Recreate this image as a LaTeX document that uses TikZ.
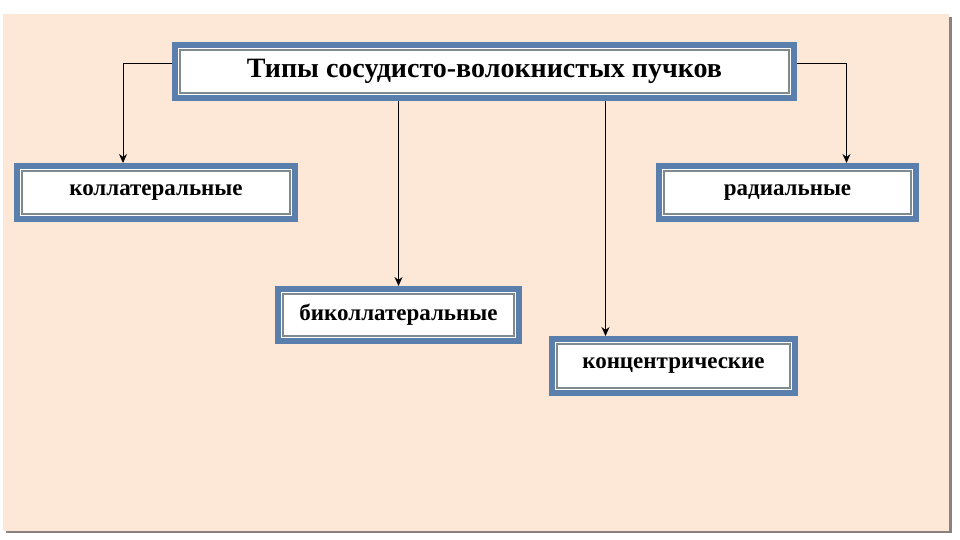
\documentclass[tikz,border=0pt]{standalone}
\usepackage{fontspec}
\setmainfont{Liberation Serif}
\usetikzlibrary{arrows.meta}

\definecolor{peach}{HTML}{FDE8D8}
\definecolor{frameblue}{HTML}{5B7FAD}
\definecolor{framegrey}{HTML}{7E8A8E}
\definecolor{shadowgrey}{HTML}{8A817C}

\begin{document}
\begin{tikzpicture}[
  x=1pt, y=-1pt,
  box/.style={rectangle, fill=white, draw=framegrey, line width=1.5pt,
    preaction={draw=frameblue, line width=16pt},
    preaction={draw=white, line width=4pt},
    inner sep=0pt, outer sep=8pt, font=\bfseries\fontsize{23}{26}\selectfont},
  conn/.style={black, line width=1pt},
  arr/.style={conn, -{Stealth[length=9pt,width=8pt]}}
]
% background
\useasboundingbox (0,0) rectangle (960,540);
\fill[white] (0,0) rectangle (960,540);
\fill[shadowgrey] (6,17) rectangle (952,533);
\fill[peach] (3,14) rectangle (949,531);

% boxes
\node[box, minimum width=609pt, minimum height=43pt,
  font=\bfseries\fontsize{28}{32}\selectfont] (title) at (484.5,71.5)
  {Типы сосудисто-волокнистых пучков};
\node[box, minimum width=268pt, minimum height=43pt] (koll) at (156,192.5) {коллатеральные};
\node[box, minimum width=247pt, minimum height=43pt] (rad) at (787.5,192.5) {радиальные};
\node[box, minimum width=231pt, minimum height=42pt] (bikoll) at (398.5,315) {биколлатеральные};
\node[box, minimum width=233pt, minimum height=44pt] (konc) at (673.5,366) {концентрические};

% connectors
\coordinate (kl) at ([xshift=-33pt]koll.north);
\coordinate (rd) at ([xshift=59pt]rad.north);
\draw[arr] ([yshift=7.5pt]title.west) -| (kl);
\draw[arr] ([yshift=7.5pt]title.east) -| (rd);
\draw[arr, line width=1.6pt] (bikoll.north |- title.south) -- (bikoll.north);
\draw[arr] ([xshift=-68pt]konc.north |- title.south) -- ([xshift=-68pt]konc.north);
\end{tikzpicture}
\end{document}
